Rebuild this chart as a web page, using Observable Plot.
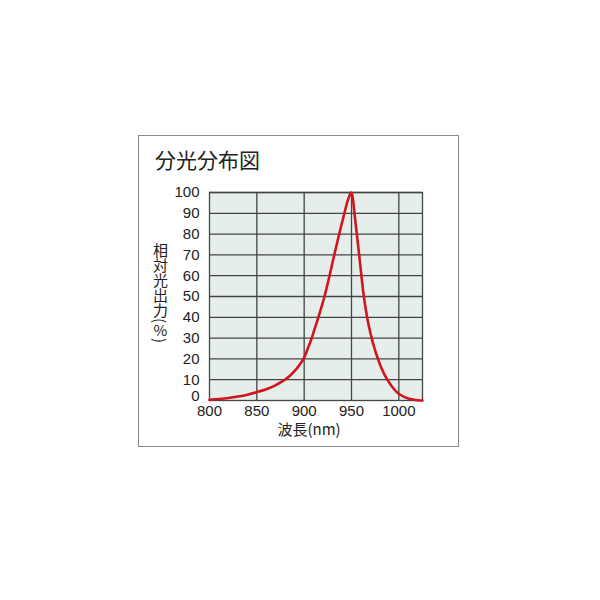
<!DOCTYPE html>
<html>
<head>
<meta charset="utf-8">
<script src="https://cdn.jsdelivr.net/npm/d3@7"></script>
<script src="https://cdn.jsdelivr.net/npm/@observablehq/plot@0.6"></script>
<style>
  html, body { margin: 0; padding: 0; background: #fff; }
  #wrap { position: relative; width: 600px; height: 600px; overflow: hidden; }
  #wrap svg { position: absolute; left: 0; top: 0; }
  .box { position: absolute; left: 138px; top: 135px; width: 321px; height: 312px; box-sizing: border-box; border: 1px solid #8a8a8a; }
  .title { position: absolute; left: 155px; top: 148px; font: 21px/22px "Noto Sans CJK JP", sans-serif; color: #222; white-space: nowrap; }
  .xlabel { position: absolute; left: 309px; top: 421px; transform: translateX(-50%); font: 15px/15px "Noto Sans CJK JP", sans-serif; color: #222; white-space: nowrap; }
  .ylabel { position: absolute; left: 153px; top: 243px; writing-mode: vertical-rl; font: 15px/15px "Noto Sans CJK JP", sans-serif; color: #222; white-space: nowrap; }
  .ylabel .up { text-orientation: upright; }
</style>
</head>
<body>
<div id="wrap">
  <div class="box"></div>
  <div class="title">分光分布図</div>
  <div class="xlabel">波長(nm)</div>
  <div class="ylabel">相対光出力(<span class="up">%</span>)</div>
</div>
<script>
const wavelengths = [800, 810, 820, 830, 840, 850, 860, 865, 870, 875, 880, 885, 890, 895, 900, 904, 908, 911.5, 915, 918.3, 921.5, 924.2, 926.8, 929.3, 931.8, 934.4, 937, 939.7, 942.5, 945, 947.5, 949, 950, 951, 952, 953, 954, 955, 956, 957, 958, 959, 960, 961, 962, 963, 964, 965, 966, 967, 968, 970, 972, 974, 976, 978, 980, 983, 986, 990, 995, 1000, 1005, 1010, 1015, 1020, 1025];
const intensities = [0.3, 0.7, 1.2, 1.9, 2.8, 4.0, 5.4, 6.3, 7.4, 8.7, 10.1, 11.9, 14.2, 17.1, 20.6, 25.2, 30, 35, 40, 45, 50, 55, 60, 65, 70, 75, 80, 85, 90, 94.5, 98, 99.6, 100, 98.5, 95, 90.5, 86.5, 82.5, 78.5, 74.5, 70.4, 66.2, 62, 57.8, 53.8, 50.2, 47, 44, 41.3, 38.8, 36.5, 32.4, 28.8, 25.6, 22.6, 19.9, 17.4, 14.2, 11.5, 8.5, 5.4, 3.2, 1.9, 1.0, 0.45, 0.12, 0];
const xTicks = [800, 850, 900, 950, 1000];
const yTicks = [10, 20, 30, 40, 50, 60, 70, 80, 90, 100];
const yZeroTick = [0];

const data = wavelengths.map((w, i) => ({w, v: intensities[i]}));
const gridStyle = {stroke: "#444", strokeOpacity: 1, strokeWidth: 1.3};

const chart = Plot.plot({
  width: 600,
  height: 600,
  marginLeft: 209,
  marginRight: 178,
  marginTop: 192,
  marginBottom: 200,
  x: {domain: [800, 1025]},
  y: {domain: [0, 100]},
  style: {fontFamily: "'Liberation Sans', Arial, sans-serif", fontSize: "15px", color: "#222", background: "transparent"},
  marks: [
    Plot.frame({fill: "#e5eeeb", stroke: "none"}),
    Plot.gridX(xTicks.slice(1), gridStyle),
    Plot.gridY(yTicks, gridStyle),
    Plot.frame({stroke: "#444", strokeWidth: 1.3}),
    Plot.line(data, {x: "w", y: "v", curve: "monotone-x", stroke: "#d2141f", strokeWidth: 2.6}),
    Plot.axisX(xTicks, {tickSize: 0, tickPadding: 5, label: null, fontSize: 15, tickFormat: d => String(d)}),
    Plot.axisY(yTicks, {tickSize: 0, tickPadding: 10, label: null, fontSize: 15, tickFormat: d => String(d)}),
    Plot.axisY(yZeroTick, {tickSize: 0, tickPadding: 10, label: null, fontSize: 15, dy: -4, tickFormat: d => String(d)})
  ]
});
document.getElementById("wrap").appendChild(chart);
</script>
</body>
</html>
